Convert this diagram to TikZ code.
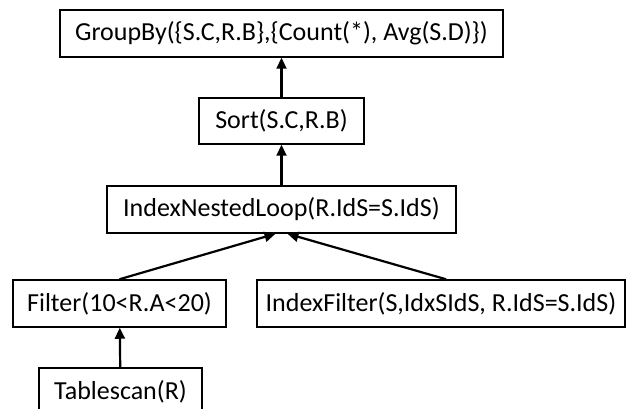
\documentclass[tikz,border=0pt]{standalone}
\usepackage{fontspec}
\setmainfont{Carlito}
\usetikzlibrary{arrows.meta,calc}
\begin{document}
\begin{tikzpicture}[x=1pt,y=-1pt,
  opbox/.style={draw=black,line width=1.5pt,inner sep=0pt,minimum height=47pt,
    font=\fontsize{26}{31}\selectfont,text=black},
  flow/.style={line width=2.2pt,-{Triangle[length=11pt,width=10pt]}}]
\useasboundingbox (0,0) rectangle (627,409);
\clip (0,0) rectangle (627,409);
\node[opbox,minimum width=443pt] (gb) at (281.5,33.5) {GroupBy(\{S.C,R.B\},\{Count(*), Avg(S.D)\})};
\node[opbox,minimum width=165pt,minimum height=46pt] (sort) at (281.5,121) {Sort(S.C,R.B)};
\node[opbox,minimum width=349pt] (inl) at (281.5,209.5) {IndexNestedLoop(R.IdS=S.IdS)};
\node[opbox,minimum width=213pt] (filt) at (119.5,303.5) {Filter(10<R.A<20)};
\node[opbox,minimum width=368pt] (ifil) at (441,303.5) {IndexFilter(S,IdxSIdS, R.IdS=S.IdS)};
\node[opbox,minimum width=163pt] (ts) at (120.5,391.5) {Tablescan(R)};
\coordinate (inl-l) at ($(inl.south)+(-6,0)$);
\coordinate (inl-r) at ($(inl.south)+(6,0)$);
\coordinate (ifil-t) at ($(ifil.north)+(5,0)$);
\draw[flow] (sort) -- (gb);
\draw[flow] (inl) -- (sort);
\draw[flow] (filt.north) -- (inl-l);
\draw[flow] (ifil-t) -- (inl-r);
\draw[flow] (ts) -- (filt);
\end{tikzpicture}
\end{document}
